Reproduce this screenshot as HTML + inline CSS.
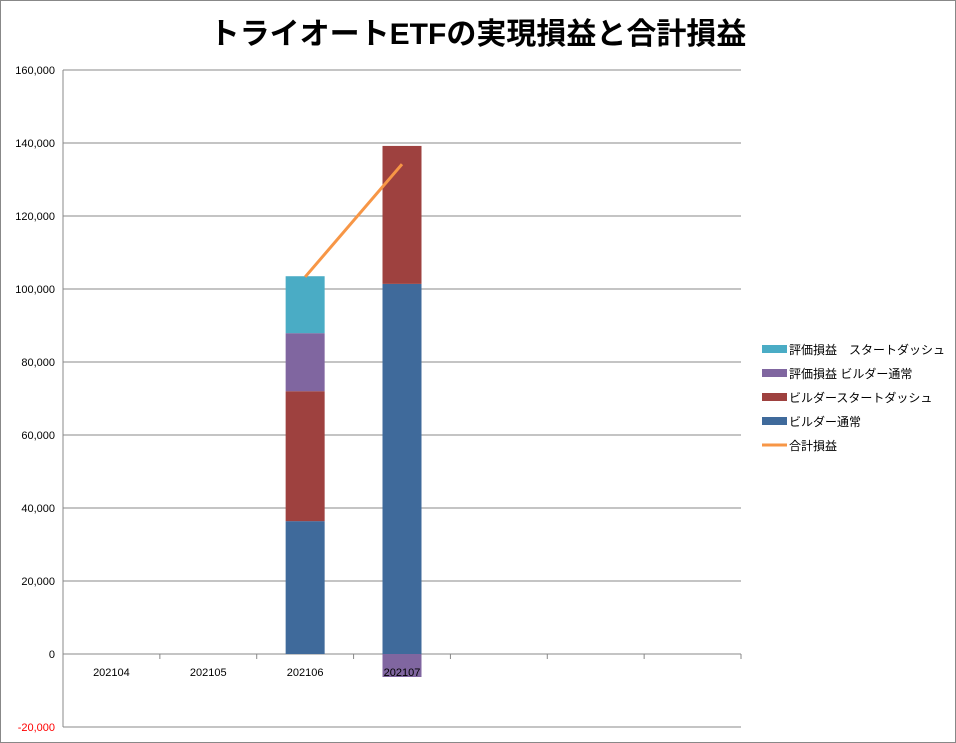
<!DOCTYPE html>
<html><head><meta charset="utf-8"><style>
body{margin:0;background:#fff;}
svg{display:block;font-family:"Liberation Sans","Noto Sans CJK JP",sans-serif;}
</style></head><body>
<svg id="chart" width="956" height="743">
<rect x="0.5" y="0.5" width="955" height="742" fill="#fff" stroke="#888"/>
<text x="478" y="44" text-anchor="middle" font-size="30" font-weight="bold" fill="#000" font-family="'Liberation Sans','Noto Sans CJK JP',sans-serif">トライオートETFの実現損益と合計損益</text>
<g id="grid"></g><g id="bars"></g><g id="line"></g><g id="labels"></g>
<g id="legend" font-size="12"></g>
</svg>
<script>
const categories=["202104","202105","202106","202107","","",""];
const seriesNames=["ビルダー通常","ビルダースタートダッシュ","評価損益 ビルダー通常","評価損益　スタートダッシュ"];
const builderNormal=[0,0,36400,101400];
const builderStart=[0,0,35600,37800];
const evalBuilder=[0,0,15900,-6300];
const evalStart=[0,0,15600,0];
const totalPL=[null,null,103300,134200];
const yTicks=[-20000,0,20000,40000,60000,80000,100000,120000,140000,160000];
const colors=["#3f6a9b","#9e413f","#8066a0","#4aacc5"];
const X0=63,X1=741,Y0=654,PX=73/20000;
const n=categories.length,bw=(X1-X0)/n;
function y(v){return Y0-v*PX;}
function xc(i){return X0+bw*(i+0.5);}
const NS="http://www.w3.org/2000/svg";
function mk(t,a,p){const e=document.createElementNS(NS,t);for(const k in a)e.setAttribute(k,a[k]);p.appendChild(e);return e;}
const grid=document.getElementById('grid'),bars=document.getElementById('bars'),labels=document.getElementById('labels');
yTicks.forEach(v=>{
 const l=mk('line',{x1:X0,x2:X1,y1:y(v),y2:y(v),stroke:'#888','stroke-width':1},grid);
 
 
 const t=mk('text',{x:55,y:y(v)+4,'text-anchor':'end','font-size':11,fill:v<0?'#f00':'#000'},labels);
 t.textContent=v.toLocaleString('en-US');
 
 
});
const ax=mk('line',{x1:X0,x2:X0,y1:y(yTicks[yTicks.length-1]),y2:y(yTicks[0]),stroke:'#888'},grid);


for(let i=0;i<=n;i++){
 const tk=mk('line',{x1:X0+bw*i,x2:X0+bw*i,y1:Y0,y2:Y0+5,stroke:'#888'},grid);
 
 
}
const all=[builderNormal,builderStart,evalBuilder,evalStart];
for(let i=0;i<builderNormal.length;i++){
 let pos=0,neg=0;
 all.forEach((s,k)=>{
  const v=s[i]; if(!v)return;
  let a,b; if(v>=0){a=pos;b=pos+v;pos=b;}else{a=neg;b=neg+v;neg=b;}
  const r=mk('rect',{x:xc(i)-19.5,width:39,y:Math.min(y(a),y(b)),height:Math.abs(y(a)-y(b)),fill:colors[k]},bars);
  
  
 });
}
categories.forEach((c,i)=>{
 if(!c)return;
 const t=mk('text',{x:xc(i),y:676,'text-anchor':'middle','font-size':11,fill:'#000'},labels);
 t.textContent=c;
 
 
});
let pts=[];totalPL.forEach((v,i)=>{if(v!=null)pts.push(xc(i)+','+y(v));});
const pl=mk('polyline',{points:pts.join(' '),fill:'none',stroke:'#f79646','stroke-width':3},document.getElementById('line'));


const lg=document.getElementById('legend');
const items=[["評価損益　スタートダッシュ",colors[3],0],["評価損益 ビルダー通常",colors[2],0],["ビルダースタートダッシュ",colors[1],0],["ビルダー通常",colors[0],0],["合計損益","#f79646",1]];
items.forEach((it,j)=>{
 const yy=349+j*24;
 let m;
 if(it[2]) m=mk('line',{x1:762,x2:787,y1:yy,y2:yy,stroke:it[1],'stroke-width':3},lg);
 else m=mk('rect',{x:762,y:yy-4,width:25,height:8,fill:it[1]},lg);
 
 
 const t=mk('text',{x:789,y:yy+5,'font-size':12,fill:'#000'},lg);
 t.textContent=it[0];
 
 
});
</script>
</body></html>
